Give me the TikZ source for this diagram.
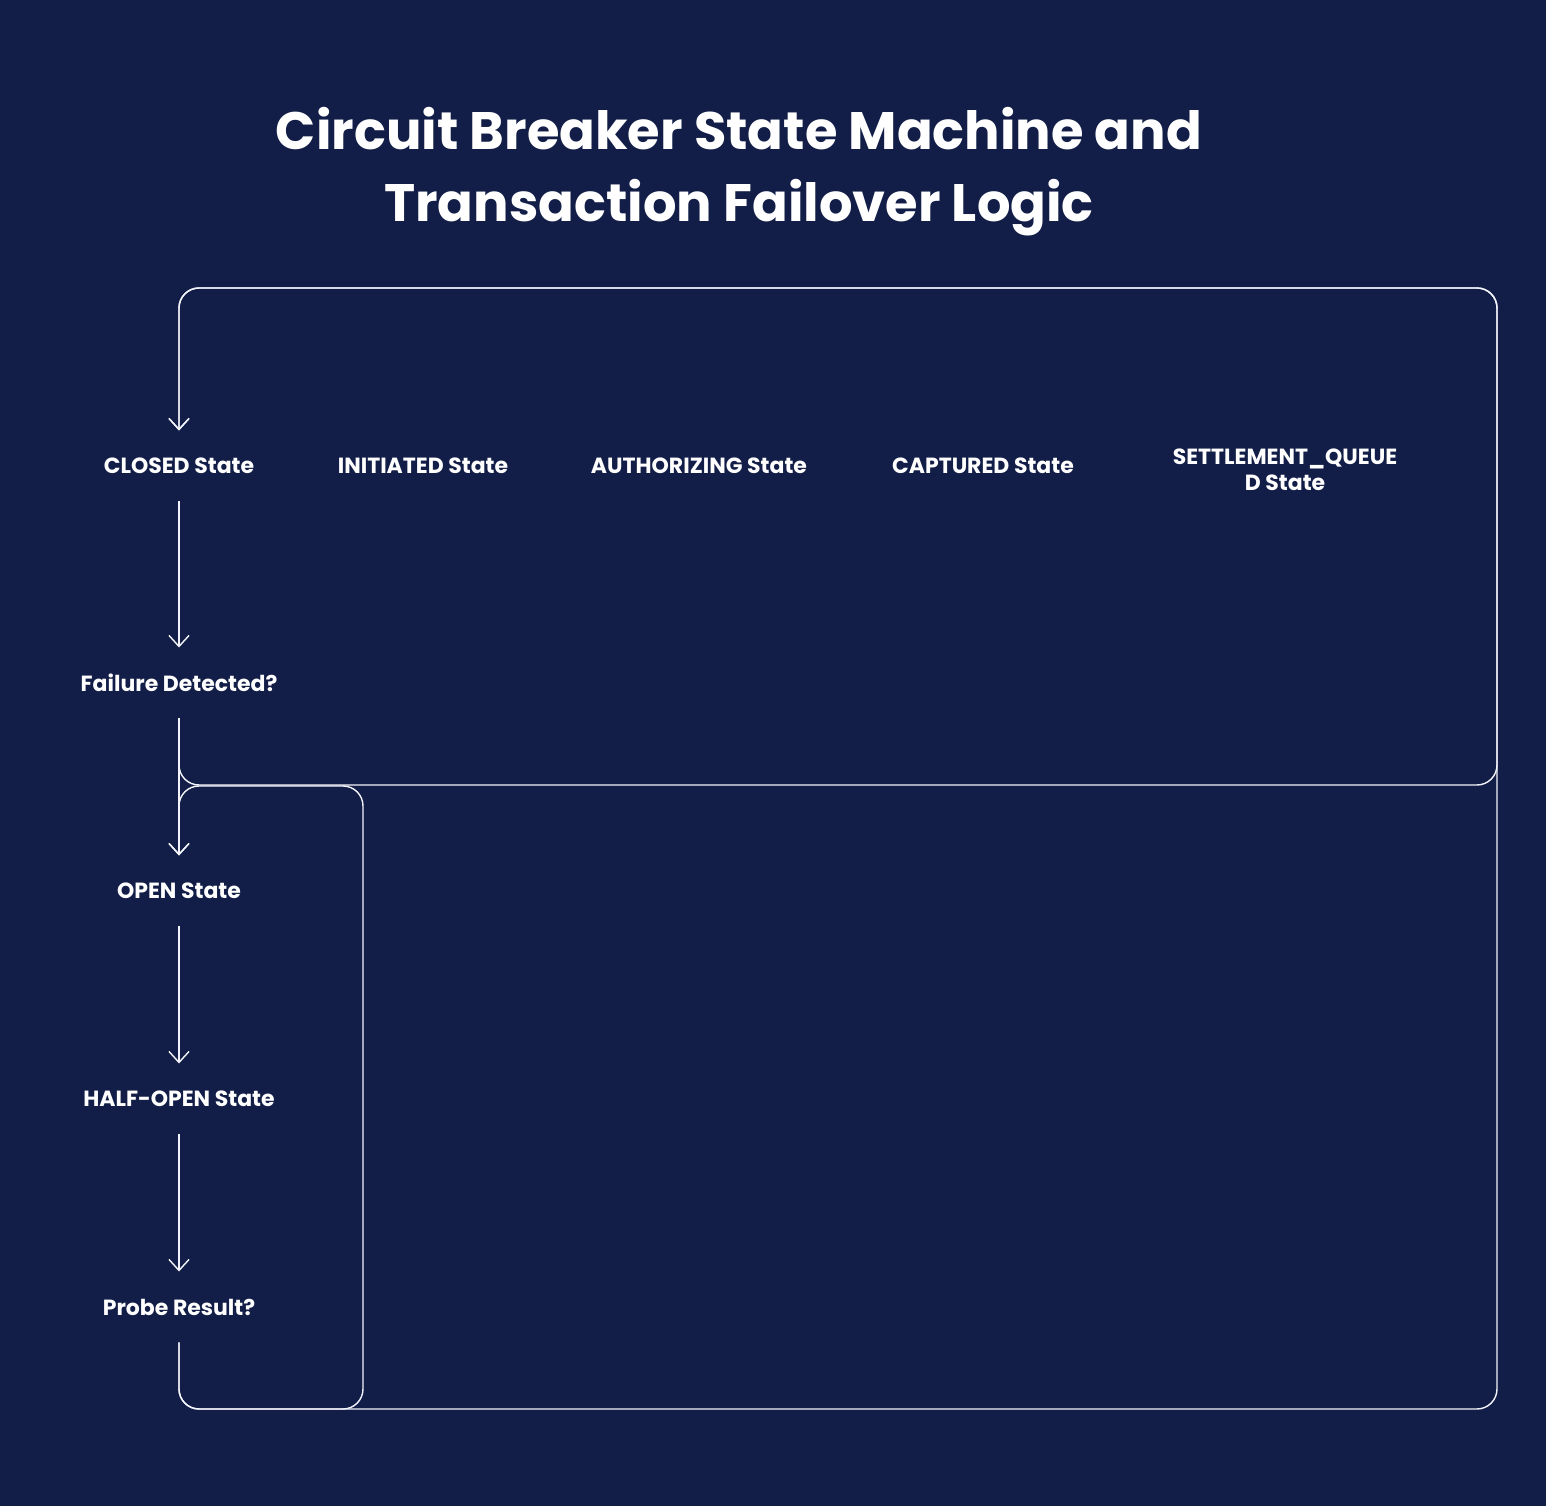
\documentclass[tikz,border=0pt]{standalone}
\usepackage{fontspec}
\setmainfont{Poppins}
\usetikzlibrary{positioning,arrows.meta}
\definecolor{bgnavy}{HTML}{121E47}
\definecolor{wire}{HTML}{F2F4FA}
\begin{document}
\begin{tikzpicture}[x=0.02cm, y=-0.02cm,
    state/.style={text=white, font=\fontsize{12.5}{15}\selectfont\bfseries, align=center, minimum height=40pt, inner sep=0pt},
    flow/.style={draw=wire, line width=0.8pt, rounded corners=0.4cm, -{Straight Barb[length=2.2mm,width=4mm]}}]

    \fill[bgnavy] (0,0) rectangle (1546,1506);
    \useasboundingbox (0,0) rectangle (1546,1506);

    \node[text=white, font=\fontsize{30}{41}\selectfont\bfseries, align=center] (title) at (739,172)
        {Circuit Breaker State Machine and\\Transaction Failover Logic};

    \node[state] (closed) at (179,466) {CLOSED State};
    \node[state] (fail) at (179,683) {Failure Detected?};
    \node[state] (open) at (179,891) {OPEN State};
    \node[state] (half) at (179,1099) {HALF-OPEN State};
    \node[state] (probe) at (179,1307) {Probe Result?};

    \node[state] (init) at (423,466) {INITIATED State};
    \node[state] (auth) at (699,466) {AUTHORIZING State};
    \node[state] (capt) at (983,466) {CAPTURED State};
    \node[state] (settle) at (1285,470) {SETTLEMENT\_QUEUE\\D State};

    % corners of the loops
    \coordinate (topL) at (179,288);
    \coordinate (topR) at (1497,288);
    \coordinate (midL) at (179,785);
    \coordinate (midR) at (1497,785);
    \coordinate (botL) at (179,1409);
    \coordinate (botM) at (363,1409);
    \coordinate (botR) at (1497,1409);
    \coordinate (boxT) at (363,786);
    \coordinate (boxL) at (179,786);

    \draw[flow] (closed) -- (fail);
    \draw[flow] (fail) -- (open);
    \draw[flow] (open) -- (half);
    \draw[flow] (half) -- (probe);

    \draw[flow] (fail.south) -- (midL) -- (midR) -- (topR) -- (topL) -- (closed.north);
    \draw[flow] (probe.south) -- (botL) -- (botR) -- (topR) -- (topL) -- (closed.north);
    \draw[flow] (probe.south) -- (botL) -- (botM) -- (boxT) -- (boxL) -- (open.north);
\end{tikzpicture}
\end{document}
